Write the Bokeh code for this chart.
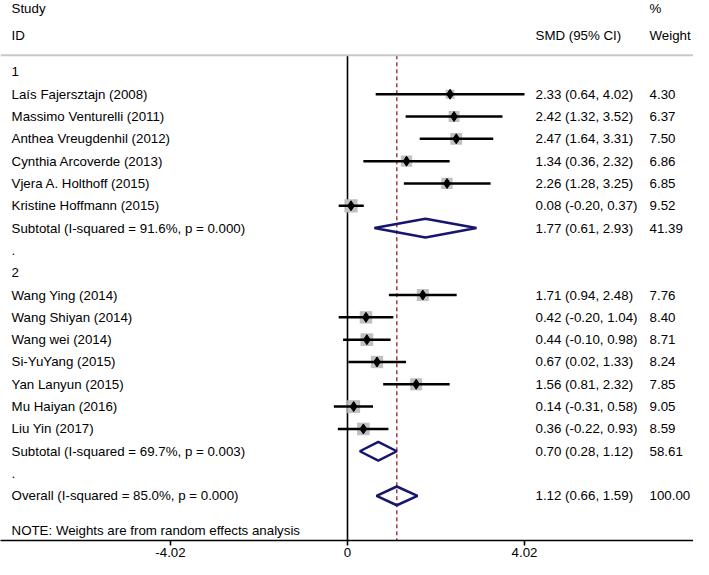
import numpy as np
from bokeh.plotting import figure
from bokeh.models import Range1d, FixedTicker, ColumnDataSource, Span
from bokeh.core.properties import value
from bokeh.embed import file_html
from bokeh.resources import INLINE

# ---------------- data ----------------
group1_label = "1"
group1_names = ["Laís Fajersztajn (2008)", "Massimo Venturelli (2011)", "Anthea Vreugdenhil (2012)",
                "Cynthia Arcoverde (2013)", "Vjera A. Holthoff  (2015)", "Kristine Hoffmann (2015)"]
group1_smd = [2.33, 2.42, 2.47, 1.34, 2.26, 0.08]
group1_lo = [0.64, 1.32, 1.64, 0.36, 1.28, -0.20]
group1_hi = [4.02, 3.52, 3.31, 2.32, 3.25, 0.37]
group1_wt = [4.30, 6.37, 7.50, 6.86, 6.85, 9.52]
sub1_label = "Subtotal  (I-squared = 91.6%, p = 0.000)"
sub1_vals = [1.77, 0.61, 2.93, 41.39]

group2_label = "2"
group2_names = ["Wang Ying (2014)", "Wang Shiyan (2014)", "Wang wei (2014)", "Si-YuYang (2015)",
                "Yan Lanyun (2015)", "Mu Haiyan (2016)", "Liu Yin (2017)"]
group2_smd = [1.71, 0.42, 0.44, 0.67, 1.56, 0.14, 0.36]
group2_lo = [0.94, -0.20, -0.10, 0.02, 0.81, -0.31, -0.22]
group2_hi = [2.48, 1.04, 0.98, 1.33, 2.32, 0.58, 0.93]
group2_wt = [7.76, 8.40, 8.71, 8.24, 7.85, 9.05, 8.59]
sub2_label = "Subtotal  (I-squared = 69.7%, p = 0.003)"
sub2_vals = [0.70, 0.28, 1.12, 58.61]

overall_label = "Overall  (I-squared = 85.0%, p = 0.000)"
overall_vals = [1.12, 0.66, 1.59, 100.00]

note_text = "NOTE: Weights are from random effects analysis"
tick_values = [-4.02, 0, 4.02]
tick_labels = ["-4.02", "0", "4.02"]

# ---------------- layout constants ----------------
FONT = value("Liberation Sans")
FSIZE = value("13.3px")
X_STUDY = -7.63
X_SMD = 4.27
X_WT = 6.86
Y_STUDY_HDR = -2.86
Y_ID_HDR = -1.63
Y_RULE = -0.75
Y_NOTE = 20.57
Y_AXIS = 21.0
Y_TOP = -3.20
DIAMOND_H = 0.42

# ---------------- build rows ----------------
row_text, row_y = [], []
study_rows = {"x": [], "lo": [], "hi": [], "y": [], "w": []}
summ = {"est": [], "lo": [], "hi": [], "y": []}
right_text = {"smd": [], "wt": [], "y": []}

r = 0
def add_text(t):
    global r
    row_text.append(t); row_y.append(r); r += 1
    return r - 1

def add_studies(names, smd, lo, hi, wt):
    for n, e, l, h, w in zip(names, smd, lo, hi, wt):
        y = add_text(n)
        study_rows["x"].append(e); study_rows["lo"].append(l); study_rows["hi"].append(h)
        study_rows["y"].append(y); study_rows["w"].append(w)
        right_text["smd"].append(f"{e:.2f} ({l:.2f}, {h:.2f})")
        right_text["wt"].append(f"{w:.2f}")
        right_text["y"].append(y)

def add_summary(label, vals):
    y = add_text(label)
    e, l, h, w = vals
    summ["est"].append(e); summ["lo"].append(l); summ["hi"].append(h); summ["y"].append(y)
    right_text["smd"].append(f"{e:.2f} ({l:.2f}, {h:.2f})")
    right_text["wt"].append(f"{w:.2f}")
    right_text["y"].append(y)

add_text(group1_label)
add_studies(group1_names, group1_smd, group1_lo, group1_hi, group1_wt)
add_summary(sub1_label, sub1_vals)
add_text(".")
add_text(group2_label)
add_studies(group2_names, group2_smd, group2_lo, group2_hi, group2_wt)
add_summary(sub2_label, sub2_vals)
add_text(".")
add_summary(overall_label, overall_vals)

# ---------------- figure ----------------
px_per_unit = 44.03
zero_px = 347
W, H = 693, 559
p = figure(width=W, height=H, output_backend="svg", toolbar_location=None,
           x_range=Range1d(-zero_px / px_per_unit, (W - zero_px) / px_per_unit),
           y_range=Range1d(Y_AXIS, Y_TOP), y_axis_location=None,
           min_border=0, min_border_left=0, min_border_right=0, min_border_top=0)
p.outline_line_color = None
p.grid.visible = False
p.background_fill_color = "white"
p.border_fill_color = "white"

ax = p.xaxis[0]
ax.ticker = FixedTicker(ticks=tick_values)
ax.major_label_overrides = {v: t for v, t in zip(tick_values, tick_labels)}
ax.axis_line_color = "black"
ax.axis_line_width = 1.6
ax.major_tick_line_color = "black"
ax.major_tick_line_width = 1.6
ax.major_tick_out = 5
ax.major_tick_in = 0
ax.minor_tick_line_color = None
ax.major_label_standoff = 2
ax.major_label_text_font = "Liberation Sans"
ax.major_label_text_font_size = "13.3px"
ax.major_label_text_color = "black"

# header rule
p.add_layout(Span(location=Y_RULE, dimension="width", line_color="#c8c8c8", line_width=2))

# zero line and overall dashed line
p.segment(x0=[0], x1=[0], y0=[Y_RULE], y1=[Y_AXIS], line_color="black", line_width=1.6)
p.segment(x0=[overall_vals[0]], x1=[overall_vals[0]], y0=[Y_RULE], y1=[Y_AXIS],
          line_color="#9b2d3a", line_width=1.4, line_dash="4 3")

# studies
src = ColumnDataSource(dict(x=study_rows["x"], lo=study_rows["lo"], hi=study_rows["hi"],
                            y=study_rows["y"], size=4.3 * np.sqrt(np.array(study_rows["w"]))))
p.scatter("x", "y", source=src, marker="square", size="size", fill_color="#c0c0c0", line_color=None)
p.segment(x0="lo", x1="hi", y0="y", y1="y", source=src, line_color="black", line_width=2.5)
p.scatter("x", "y", source=src, marker="diamond", size=10, fill_color="black", line_color="black")

# summary diamonds
xs, ys = [], []
for e, l, h, y in zip(summ["est"], summ["lo"], summ["hi"], summ["y"]):
    xs.append([l, e, h, e])
    ys.append([y, y - DIAMOND_H, y, y + DIAMOND_H])
p.patches(xs=xs, ys=ys, fill_color=None, line_color="#16166e", line_width=2.5)

# texts
tkw = dict(text_font=FONT, text_font_size=FSIZE, text_color="black", text_baseline="middle", text_align="left")
p.text(x=[X_STUDY] * len(row_text), y=row_y, text=row_text, **tkw)
p.text(x=[X_STUDY, X_STUDY, X_STUDY], y=[Y_STUDY_HDR, Y_ID_HDR, Y_NOTE], text=["Study", "ID", note_text], **tkw)
p.text(x=[X_SMD, X_WT, X_WT], y=[Y_ID_HDR, Y_STUDY_HDR, Y_ID_HDR], text=["SMD (95% CI)", "%", "Weight"], **tkw)
p.text(x=[X_SMD] * len(right_text["y"]), y=right_text["y"], text=right_text["smd"], **tkw)
p.text(x=[X_WT] * len(right_text["y"]), y=right_text["y"], text=right_text["wt"], **tkw)

open("out.html", "w").write(file_html(p, INLINE))
